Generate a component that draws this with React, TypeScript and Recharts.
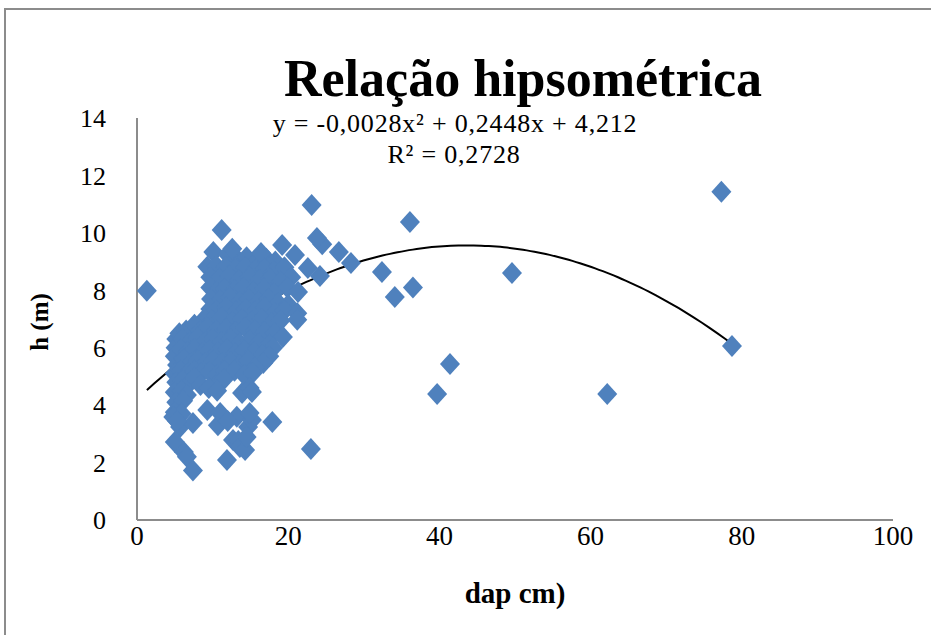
import { ComposedChart, Scatter, Line, XAxis, YAxis, Label } from "recharts";

// dap (cm), h (m)
const trees: [number, number][] = [
  // isolated points
  [1.3, 7.98], [77.3, 11.43], [78.7, 6.06], [62.2, 4.39], [49.6, 8.6],
  [41.4, 5.43], [39.7, 4.39], [36.1, 10.38], [36.5, 8.1], [34.1, 7.77],
  [32.4, 8.64], [28.3, 8.95], [26.7, 9.33], [24.5, 9.6], [23.8, 9.82],
  [23.1, 10.97], [24.2, 8.5], [22.6, 8.78], [23.0, 2.47],
  // main cluster, top part
  [11.2, 10.1], [10.1, 9.33], [9.3, 8.82], [12.0, 9.25], [13.2, 9.1],
  [14.5, 9.15], [15.8, 9.0], [17.1, 9.1], [18.3, 9.0], [19.2, 9.58], [20.9, 9.23],
  [12.6, 9.45], [16.4, 9.3],
  [10.5, 8.85], [11.7, 8.8], [13.0, 8.75], [14.3, 8.8], [15.6, 8.7],
  [16.9, 8.75], [18.1, 8.65], [19.5, 8.8], [20.4, 8.45],
  [9.7, 8.45], [10.9, 8.4], [12.2, 8.5], [13.5, 8.35], [14.9, 8.45],
  [16.2, 8.35], [17.6, 8.4], [19.0, 8.3], [19.9, 8.1],
  [9.7, 8.1], [10.5, 7.95], [11.6, 8.05], [12.9, 8.0], [14.1, 8.1],
  [15.4, 7.95], [16.8, 8.05], [18.1, 7.9], [21.3, 7.94],
  [9.8, 7.7], [11.0, 7.65], [12.3, 7.75], [13.6, 7.6], [14.8, 7.7],
  [16.1, 7.6], [17.4, 7.7], [18.7, 7.55], [20.0, 7.5],
  [9.7, 7.35], [10.5, 7.3], [11.8, 7.4], [13.1, 7.25], [14.4, 7.35],
  [15.6, 7.25], [16.9, 7.4], [18.2, 7.2], [19.5, 7.3], [21.2, 7.2],
  [8.9, 7.0], [9.9, 6.95], [11.2, 7.05], [12.6, 6.9], [13.9, 7.0],
  [15.2, 6.9], [16.5, 7.0], [17.8, 6.85], [19.0, 6.95], [21.2, 6.97],
  // middle
  [5.2, 6.3], [5.6, 6.5], [6.5, 6.6], [7.6, 6.8], [8.4, 6.6], [9.3, 6.7],
  [10.5, 6.6], [11.8, 6.65], [13.0, 6.55], [14.3, 6.7], [15.6, 6.6],
  [16.9, 6.55], [18.2, 6.5], [19.3, 6.37],
  [5.1, 6.0], [6.0, 6.3], [7.0, 6.2], [8.0, 6.35], [9.0, 6.2], [10.0, 6.3],
  [11.2, 6.2], [12.4, 6.3], [13.6, 6.15], [14.9, 6.25], [16.1, 6.15],
  [17.5, 6.1], [18.0, 6.0],
  [5.0, 5.7], [5.8, 5.95], [6.7, 5.85], [7.6, 5.95], [8.6, 5.8], [9.6, 5.9],
  [10.7, 5.85], [11.9, 5.95], [13.0, 5.8], [14.2, 5.9], [15.5, 5.85],
  [16.6, 5.75], [17.5, 5.7],
  [5.3, 5.4], [6.2, 5.6], [7.1, 5.45], [8.0, 5.55], [9.0, 5.45], [10.1, 5.55],
  [11.2, 5.45], [12.4, 5.5], [13.6, 5.4], [14.7, 5.55], [16.7, 5.47], [15.6, 5.3],
  [5.0, 5.1], [5.8, 5.2], [6.7, 5.1], [7.6, 5.2], [8.5, 5.1], [9.6, 5.15],
  [10.6, 5.05], [11.6, 5.2], [12.9, 5.2], [14.2, 5.05], [15.3, 5.12],
  // lower part
  [5.2, 4.8], [6.0, 4.85], [6.9, 4.75], [7.6, 4.95], [10.7, 4.77], [11.5, 4.9],
  [8.4, 4.7], [9.5, 4.6],
  [5.0, 4.45], [5.9, 4.5], [6.6, 4.35], [10.6, 4.5], [9.3, 3.83], [10.7, 3.3],
  [13.9, 4.42], [14.9, 4.6], [15.2, 4.46], [13.2, 3.6], [14.7, 3.24],
  [15.2, 3.48], [17.9, 3.41], [14.9, 3.73], [11.0, 3.73], [12.0, 3.45],
  [5.2, 4.1], [6.1, 4.15], [5.0, 3.75], [5.9, 3.7], [4.8, 3.59], [5.7, 3.24],
  [7.4, 3.38], [5.3, 3.45],
  [5.0, 2.72], [6.2, 2.37], [6.6, 2.2], [7.4, 1.72], [11.9, 2.09],
  [12.7, 2.79], [13.4, 2.75], [13.6, 2.54], [14.3, 2.44], [14.5, 2.89],
];

const xTicks = [0, 20, 40, 60, 80, 100];
const yTicks = [0, 2, 4, 6, 8, 10, 12, 14];

// polynomial trendline shown on the chart: c0 + c1*x + c2*x^2
const trendCoef = [4.212, 0.2448, -0.0028];
const trendRange = [1.3, 78.7];

const points = trees.map(([x, y]) => ({ x, y }));
const trend = Array.from({ length: 78 }, (_, i) => {
  const x = trendRange[0] + ((trendRange[1] - trendRange[0]) * i) / 77;
  return { x, y: trendCoef[0] + trendCoef[1] * x + trendCoef[2] * x * x };
});

const font = "'Liberation Serif', 'Times New Roman', serif";
const blue = "#4F81BD";
const axisGray = "#8c8c8c";

const Diamond = (props: any) => {
  const { cx, cy } = props;
  if (cx == null || cy == null) return <g />;
  return (
    <path
      d={`M${cx},${cy - 11}L${cx + 10},${cy}L${cx},${cy + 11}L${cx - 10},${cy}Z`}
      fill={blue}
    />
  );
};

export default function App() {
  return (
    <div
      style={{
        position: "absolute",
        left: 0,
        top: 0,
        width: 931,
        height: 635,
        overflow: "hidden",
        background: "#fff",
      }}
    >
      <div
        style={{
          position: "absolute",
          left: 4,
          top: 8,
          width: 1000,
          height: 700,
          borderLeft: `2px solid ${axisGray}`,
          borderTop: `2px solid ${axisGray}`,
        }}
      />
      <div style={{ position: "absolute", left: 0, top: 0 }}>
        <ComposedChart
          width={931}
          height={635}
          margin={{ top: 118, right: 38, bottom: 25, left: 0 }}
        >
          <XAxis
            type="number"
            dataKey="x"
            domain={[0, 100]}
            ticks={xTicks}
            allowDataOverflow
            height={90}
            tickSize={0}
            tickMargin={6}
            axisLine={{ stroke: axisGray, strokeWidth: 2 }}
            tickLine={false}
            tick={{ fill: "#000", fontSize: 27, fontFamily: font }}
          >
            <Label
              value="dap cm)"
              position="insideBottom"
              offset={7}
              style={{ fontFamily: font, fontSize: 29, fontWeight: "bold", fill: "#000" }}
            />
          </XAxis>
          <YAxis
            type="number"
            dataKey="y"
            domain={[0, 14]}
            ticks={yTicks}
            allowDataOverflow
            width={137}
            tickSize={0}
            tickMargin={31}
            axisLine={{ stroke: axisGray, strokeWidth: 2 }}
            tickLine={false}
            tick={{ fill: "#000", fontSize: 26, fontFamily: font }}
          />
          <Scatter
            data={points}
            dataKey="y"
            shape={Diamond}
            isAnimationActive={false}
          />
          <Line
            data={trend}
            dataKey="y"
            type="monotone"
            stroke="#000"
            strokeWidth={2}
            dot={false}
            activeDot={false}
            isAnimationActive={false}
          />
        </ComposedChart>
      </div>
      <svg
        width={931}
        height={635}
        style={{ position: "absolute", left: 0, top: 0, pointerEvents: "none" }}
      >
        <text
          x={523}
          y={96}
          textAnchor="middle"
          fontFamily={font}
          fontSize={52}
          fontWeight="bold"
        >
          Relação hipsométrica
        </text>
        <text
          x={455}
          y={132}
          textAnchor="middle"
          fontFamily={font}
          fontSize={26}
          letterSpacing={0.8}
        >
          y = -0,0028x² + 0,2448x + 4,212
        </text>
        <text
          x={454}
          y={163}
          textAnchor="middle"
          fontFamily={font}
          fontSize={26}
          letterSpacing={0.8}
        >
          R² = 0,2728
        </text>
        <text
          x={0}
          y={0}
          transform="translate(48,322) rotate(-90)"
          textAnchor="middle"
          fontFamily={font}
          fontSize={25}
          fontWeight="bold"
        >
          h (m)
        </text>
      </svg>
    </div>
  );
}
